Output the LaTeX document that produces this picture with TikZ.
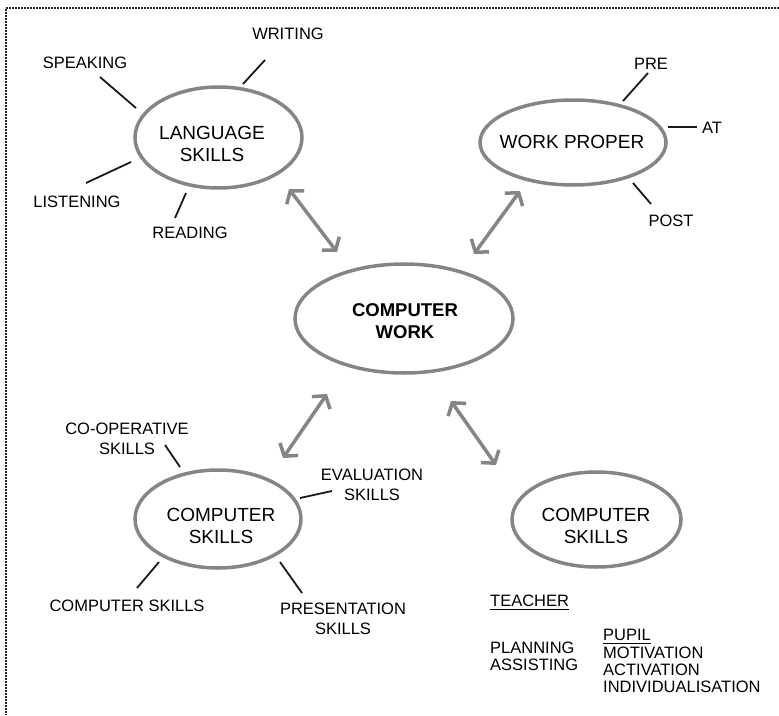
\documentclass[tikz,border=0pt]{standalone}
\usepackage{fontspec}
\setmainfont{Liberation Sans}
\usetikzlibrary{shapes.geometric,arrows.meta}
\newcommand\myul[1]{\vtop{\hbox{#1}\kern 3pt\hrule height 1.1pt}}
\begin{document}
\begin{tikzpicture}[x=1pt,y=-1pt,
  bubble/.style={ellipse,draw=black!48,line width=3.5pt,inner sep=0pt},
  big/.style={font=\fontsize{19}{22}\selectfont,align=center,inner sep=0pt},
  lbl/.style={font=\fontsize{16.5}{20}\selectfont,align=center,inner sep=0pt},
  lst/.style={font=\fontsize{16.5}{20}\selectfont,inner sep=0pt,anchor=base west},
  spoke/.style={line width=1.8pt,black!90},
  link/.style={draw=black!48,line width=3.5pt,{Straight Barb[length=8.5pt,width=22pt]}-{Straight Barb[length=8.5pt,width=22pt]}},
  framel/.style={dash pattern=on 2pt off 1pt,line width=1.1pt,black!85}]
\useasboundingbox (0,0) rectangle (779,715);
% frame
\coordinate (ftl) at (6,8);
\coordinate (ftr) at (779,8);
\coordinate (fbl) at (6,715);
\draw[framel] (ftr) -- (ftl) -- (fbl);

% ellipses
\node[bubble,minimum width=167pt,minimum height=101pt] (lang) at (218.5,137.5) {};
\node[bubble,minimum width=186pt,minimum height=85pt] (wp) at (573,142.5) {};
\node[bubble,minimum width=218pt,minimum height=109pt] (cw) at (404,318.5) {};
\node[bubble,minimum width=166pt,minimum height=98pt] (csl) at (218,519) {};
\node[bubble,minimum width=169pt,minimum height=95pt] (csr) at (596.5,519.5) {};

% ellipse texts
\node[big] (langt) at (212,143.5) {LANGUAGE\\SKILLS};
\node[big] (wpt) at (572,142) {WORK PROPER};
\node[big,font=\fontsize{18.5}{22}\selectfont\bfseries] (cwt) at (405,321.5) {COMPUTER\\WORK};
\node[big] (cslt) at (221,526) {COMPUTER\\SKILLS};
\node[big] (csrt) at (596,525.5) {COMPUTER\\SKILLS};

% labels
\node[lbl] (writing) at (288,34) {WRITING};
\node[lbl] (speaking) at (85,62.5) {SPEAKING};
\node[lbl] (listening) at (77,202) {LISTENING};
\node[lbl] (reading) at (190,233) {READING};
\node[lbl] (pre) at (651,64) {PRE};
\node[lbl] (at) at (712,128) {AT};
\node[lbl] (post) at (671,221) {POST};
\node[lbl] (coop) at (127,439) {CO-OPERATIVE\\SKILLS};
\node[lbl] (eval) at (372,484.5) {EVALUATION\\SKILLS};
\node[lbl] (cskill) at (127,605.5) {COMPUTER SKILLS};
\node[lbl] (pres) at (343,619) {PRESENTATION\\SKILLS};

% teacher / pupil
\node[lst] (teacher) at (490,606) {\myul{TEACHER}};
\node[lst] (planning) at (490,653) {PLANNING};
\node[lst] (assisting) at (490,670) {ASSISTING};
\node[lst] (pupil) at (603,640) {\myul{PUPIL}};
\node[lst] (motiv) at (603,658) {MOTIVATION};
\node[lst] (activ) at (603,675) {ACTIVATION};
\node[lst] (indiv) at (603,692) {INDIVIDUALISATION};

% spoke end points
\coordinate (w1) at (243,84);   \coordinate (w2) at (265,60);
\coordinate (s1) at (136,108);  \coordinate (s2) at (100,77);
\coordinate (l1) at (131,162);  \coordinate (l2) at (86,183);
\coordinate (r1) at (186,193);  \coordinate (r2) at (175,218);
\coordinate (p1) at (623,101);  \coordinate (p2) at (648,73);
\coordinate (a1) at (668,127);  \coordinate (a2) at (697,127);
\coordinate (q1) at (633,183);  \coordinate (q2) at (651,204);
\coordinate (c1) at (180,467);  \coordinate (c2) at (165,445);
\coordinate (e1) at (300,498);  \coordinate (e2) at (332,491);
\coordinate (k1) at (159,562);  \coordinate (k2) at (137,588);
\coordinate (n1) at (280,562);  \coordinate (n2) at (302,593);
\draw[spoke] (w1) -- (w2);
\draw[spoke] (s1) -- (s2);
\draw[spoke] (l1) -- (l2);
\draw[spoke] (r1) -- (r2);
\draw[spoke] (p1) -- (p2);
\draw[spoke] (a1) -- (a2);
\draw[spoke] (q1) -- (q2);
\draw[spoke] (c1) -- (c2);
\draw[spoke] (e1) -- (e2);
\draw[spoke] (k1) -- (k2);
\draw[spoke] (n1) -- (n2);

% arrow end points
\coordinate (A1s) at (289,189); \coordinate (A1e) at (337,252);
\coordinate (A2s) at (520,191); \coordinate (A2e) at (474,254);
\coordinate (A3s) at (327,394); \coordinate (A3e) at (283,458);
\coordinate (A4s) at (451,401); \coordinate (A4e) at (496,465);
\draw[link] (A1s) -- (A1e);
\draw[link] (A2s) -- (A2e);
\draw[link] (A3s) -- (A3e);
\draw[link] (A4s) -- (A4e);
\end{tikzpicture}
\end{document}
